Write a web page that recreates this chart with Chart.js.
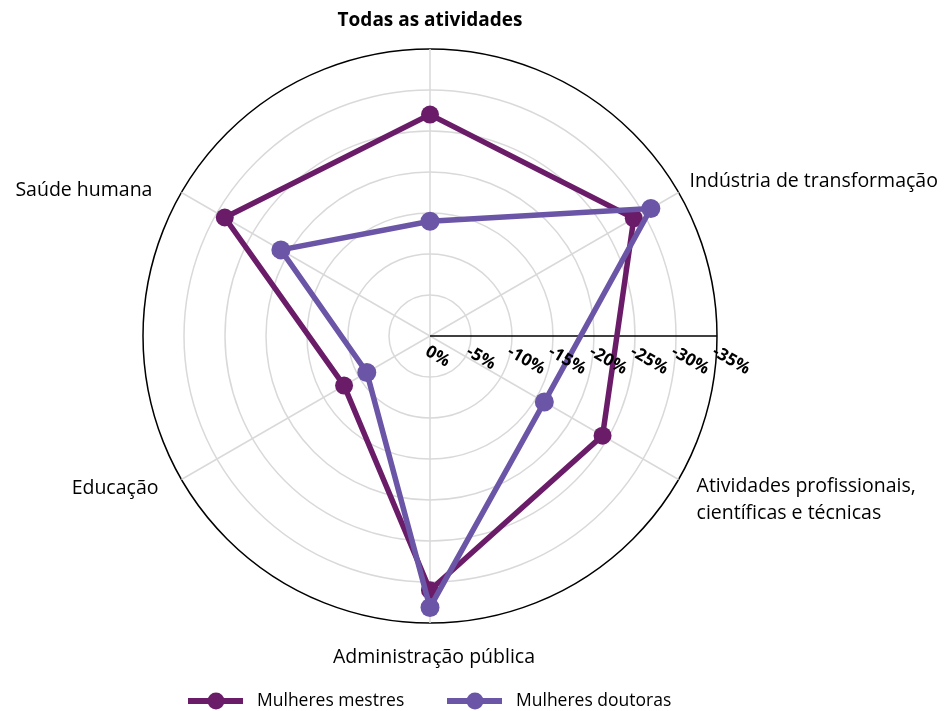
<!DOCTYPE html>
<html>
<head>
<meta charset="utf-8">
<script src="https://cdn.jsdelivr.net/npm/chart.js@4/dist/chart.umd.min.js"></script>
<style>
  html, body { margin: 0; padding: 0; background: #fff; }
  #wrap { width: 946px; height: 711px; }
</style>
</head>
<body>
<div id="wrap"><canvas id="radar" width="946" height="711"></canvas></div>
<script>
var categories = ['Todas as atividades', 'Indústria de transformação', ['Atividades profissionais,', 'científicas e técnicas'], 'Administração pública', 'Educação', 'Saúde humana'];
var mestres = [-27.0, -28.7, -24.3, -31.0, -12.1, -28.9];
var doutoras = [-14.0, -31.1, -16.1, -33.1, -8.9, -21.0];
var tickValues = [0, -5, -10, -15, -20, -25, -30, -35];
var tickLabels = ['0%', '-5%', '-10%', '-15%', '-20%', '-25%', '-30%', '-35%'];
var seriesNames = ['Mulheres mestres', 'Mulheres doutoras'];

var corMestres = '#6b1c69',
    corDoutoras = '#6b55a6',
    fonte = '"Open Sans", "Noto Sans", sans-serif';

// where each axis label sits, relative to the end of its axis line
var labelOffsets = [
  { dx: 0, dy: -28, align: 'center' },
  { dx: 11, dy: -11, align: 'left' },
  { dx: 18, dy: 7, align: 'left' },
  { dx: 4, dy: 34, align: 'center' },
  { dx: -23, dy: 9, align: 'right' },
  { dx: -29, dy: -2, align: 'right' }
];

var extras = {
  id: 'extras',
  beforeDatasetsDraw: function (chart) {
    var s = chart.scales.r, c = chart.ctx;
    c.save();
    c.strokeStyle = '#000';
    c.lineWidth = 1.5;
    c.beginPath();
    c.moveTo(s.xCenter, s.yCenter);
    c.lineTo(s.xCenter + s.drawingArea, s.yCenter);
    c.stroke();
    c.restore();
  },
  afterDatasetsDraw: function (chart) {
    var s = chart.scales.r, c = chart.ctx;
    c.save();
    // tick labels, along the horizontal line, tilted
    c.fillStyle = '#000';
    c.font = 'bold 17px ' + fonte;
    c.textAlign = 'left';
    c.textBaseline = 'top';
    tickValues.forEach(function (v, i) {
      var x = s.xCenter + s.getDistanceFromCenterForValue(v);
      c.save();
      c.translate(x + 1, s.yCenter + 7);
      c.rotate(Math.PI / 6);
      c.fillText(tickLabels[i], 0, 0);
      c.restore();
    });

    // axis labels
    c.textBaseline = 'middle';
    categories.forEach(function (lab, i) {
      var p = s.getPointPosition(i, s.drawingArea),
          o = labelOffsets[i],
          lines = Array.isArray(lab) ? lab : [lab];
      c.font = (i === 0 ? 'bold 19px ' : '19.5px ') + fonte;
      c.textAlign = o.align;
      lines.forEach(function (t, k) {
        c.fillText(t, p.x + o.dx, p.y + o.dy + k * 27);
      });
    });

    // legend
    var cols = [corMestres, corDoutoras], starts = [188, 447], y = 701;
    c.font = '17.5px ' + fonte;
    c.textAlign = 'left';
    for (var i = 0; i < 2; i++) {
      c.strokeStyle = cols[i];
      c.fillStyle = cols[i];
      c.lineWidth = 6;
      c.beginPath();
      c.moveTo(starts[i], y);
      c.lineTo(starts[i] + 55, y);
      c.stroke();
      c.beginPath();
      c.arc(starts[i] + 28, y, 8.5, 0, Math.PI * 2);
      c.fill();
      c.fillStyle = '#000';
      c.fillText(seriesNames[i], starts[i] + 69, y);
    }
    c.restore();
  }
};

var ctx = document.getElementById('radar').getContext('2d');
var chart = new Chart(ctx, {
  type: 'radar',
  data: {
    labels: categories,
    datasets: [{
      label: seriesNames[0],
      data: mestres,
      borderColor: corMestres,
      backgroundColor: corMestres,
      pointBackgroundColor: corMestres,
      borderWidth: 5.5,
      pointRadius: 9,
      pointBorderWidth: 0,
      fill: false,
      order: 1
    }, {
      label: seriesNames[1],
      data: doutoras,
      borderColor: corDoutoras,
      backgroundColor: corDoutoras,
      pointBackgroundColor: corDoutoras,
      borderWidth: 5.5,
      pointRadius: 9.5,
      pointBorderWidth: 0,
      fill: false,
      order: 0
    }]
  },
  options: {
    responsive: false,
    animation: false,
    devicePixelRatio: 1,
    layout: { padding: { left: 143, right: 229, top: 49, bottom: 88 } },
    plugins: { legend: { display: false }, tooltip: { enabled: false } },
    elements: { line: { tension: 0 } },
    scales: {
      r: {
        min: -35,
        max: 0,
        reverse: true,
        ticks: { display: false, stepSize: 5 },
        pointLabels: { display: false },
        grid: {
          circular: true,
          lineWidth: 1.5,
          color: function (c) { return c.tick && c.tick.value === -35 ? '#000' : '#d9d9d9'; }
        },
        angleLines: { color: '#d9d9d9', lineWidth: 1.5 }
      }
    }
  },
  plugins: [extras]
});
</script>
</body>
</html>
